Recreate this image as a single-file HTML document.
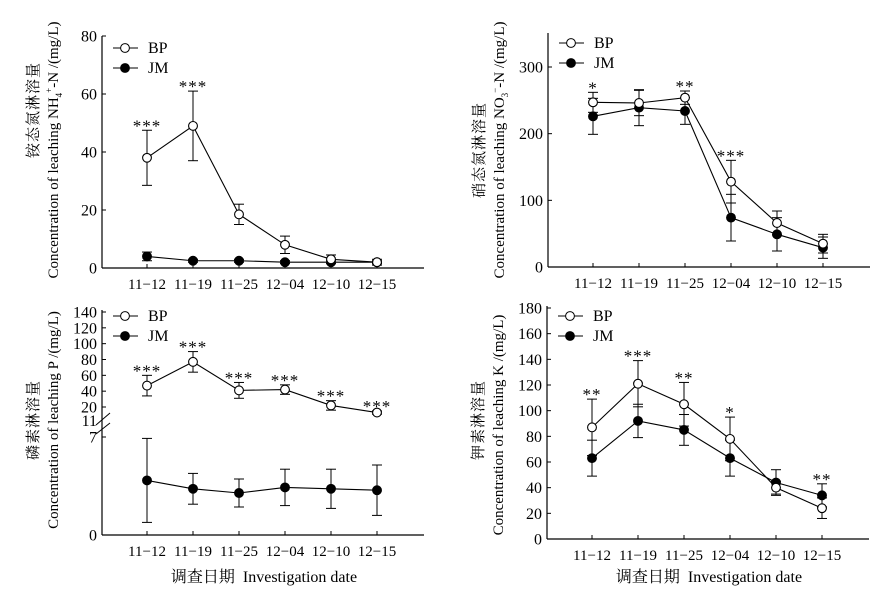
<!DOCTYPE html>
<html><head><meta charset="utf-8"><style>
body{margin:0;background:#fff}
svg text{font-family:"Liberation Serif","Times New Roman","Noto Serif CJK SC","Noto Sans CJK SC",serif;fill:#000}
</style></head><body>
<svg id="c" width="883" height="596" viewBox="0 0 883 596" xmlns="http://www.w3.org/2000/svg"></svg>
<script>
const categories=["11\u221212","11\u221219","11\u221225","12\u221204","12\u221210","12\u221215"];
const nhBP=[38,49,18.5,8,3,2];const nhBPerr=[9.5,12,3.5,3,1.5,1];
const nhJM=[4,2.5,2.5,2,2,2];const nhJMerr=[1.5,0.5,0.5,0.5,0.5,0.5];
const nhStars=["***","***","","","",""];
const noBP=[247,246,254,128,66,35];const noBPerr=[15,19,10,32,18,14];
const noJM=[226,239,234,74,49,29];const noJMerr=[27,27,20,35,25,16];
const noStars=["*","","**","***","",""];
const pBP=[47,77,41,42,22,13];const pBPerr=[13,13,10,6,6,2];
const pJM=[3.9,3.3,3.0,3.4,3.3,3.2];const pJMerr=[3.0,1.1,1.0,1.3,1.4,1.8];
const pStars=["***","***","***","***","***","***"];
const kBP=[87,121,105,78,40,24];const kBPerr=[22,18,17,17,5,8];
const kJM=[63,92,85,63,44,34];const kJMerr=[14,13,12,14,10,9];
const kStars=["**","***","**","*","","**"];
const nhTicks=[0,20,40,60,80];const noTicks=[0,100,200,300];
const pUpperTicks=[20,40,60,80,100,120,140];const pLowerTicks=[0,7];
const kTicks=[0,20,40,60,80,100,120,140,160,180];

const svg=document.getElementById('c');const NS='http://www.w3.org/2000/svg';
function el(t,a,p){const e=document.createElementNS(NS,t);for(const k in a)e.setAttribute(k,a[k]);(p||svg).appendChild(e);return e;}
function txt(s,a,p){const e=el('text',a,p);e.textContent=s;return e;}

function panel(o){
  const g=el('g',{});
  
  
  const xs=i=>o.x0+45+i*46;
  const ya=el('line',{x1:o.x0,y1:o.yTop,x2:o.x0,y2:o.yBase,stroke:'#000','stroke-width':1.2},g);
  
  const xa=el('line',{x1:o.x0,y1:o.yBase,x2:o.x0+322,y2:o.yBase,stroke:'#000','stroke-width':1.2},g);
  
  o.ticks.forEach(t=>{const y=t.y;el('line',{x1:o.x0,y1:y,x2:o.x0+4,y2:y,stroke:'#000'},g);
    const l=txt(t.v,{x:o.x0-5,y:y+5.5,'text-anchor':'end','font-size':16},g);
    });
  categories.forEach((c,i)=>{el('line',{x1:xs(i),y1:o.yBase,x2:xs(i),y2:o.yBase-4,stroke:'#000'},g);
    const l=txt(c,{x:xs(i),y:o.yBase+21,'text-anchor':'middle','font-size':15},g);
    });
  [[o.jm,o.jmErr,'#000','jm'],[o.bp,o.bpErr,'#fff','bp']].forEach(([v,e,f,n])=>{
    let d='';v.forEach((val,i)=>{d+=(i?'L':'M')+xs(i)+','+o.sy(val);});
    const p=el('path',{d:d,fill:'none',stroke:'#000','stroke-width':1.1},g);
    
    v.forEach((val,i)=>{const x=xs(i),y1=o.sy(val+e[i]),y2=o.sy(Math.max(val-e[i],o.minV));
      el('line',{x1:x,y1:y1,x2:x,y2:y2,stroke:'#000'},g);
      el('line',{x1:x-5,y1:y1,x2:x+5,y2:y1,stroke:'#000'},g);
      el('line',{x1:x-5,y1:y2,x2:x+5,y2:y2,stroke:'#000'},g);});
    v.forEach((val,i)=>{const m=el('circle',{cx:xs(i),cy:o.sy(val),r:4.4,fill:f,stroke:'#000','stroke-width':1.1},g);
      });
  });
  o.stars.forEach((s,i)=>{if(!s)return;const top=Math.min(o.sy(o.bp[i]+o.bpErr[i]),o.sy(o.jm[i]+o.jmErr[i]));
    const t=txt(s,{x:xs(i),y:top+1,'text-anchor':'middle','font-size':17,'letter-spacing':1},g);
    });
  const lg=el('g',{},g);
  [['BP','#fff',0],['JM','#000',20]].forEach(([n,f,dy])=>{const y=o.legY+dy;
    el('line',{x1:o.x0+11,y1:y,x2:o.x0+36,y2:y,stroke:'#000'},lg);
    el('circle',{cx:o.x0+23,cy:y,r:4.4,fill:f,stroke:'#000'},lg);
    const t=txt(n,{x:o.x0+46,y:y+5,'font-size':16},lg);});
  const c1=txt(o.cn,{transform:`translate(${o.x0-64},${o.cnY}) rotate(-90)`,'text-anchor':'middle','font-size':15,'letter-spacing':1},g);
  
  const c2=el('text',{transform:`translate(${o.x0-44},${o.enY}) rotate(-90)`,'text-anchor':'middle','font-size':15},g);
  c2.innerHTML=o.en;
  if(o.xt){const t=txt('调查日期\u00a0\u00a0Investigation date',{x:o.x0+162,y:582,'text-anchor':'middle','font-size':16},g);
    }
  return g;
}
const s1=v=>268-v*(232/80);
panel({name:'nh4-panel',x0:102,yTop:36,yBase:268,sy:s1,minV:0,ticks:nhTicks.map(v=>({v:v,y:s1(v)})),
 bp:nhBP,bpErr:nhBPerr,jm:nhJM,jmErr:nhJMerr,stars:nhStars,legY:48,cn:'铵态氮淋溶量',cnY:110,
 en:'Concentration of leaching NH<tspan font-size="9" dy="4">4</tspan><tspan font-size="9" dy="-10">+</tspan><tspan dy="6">-N /(mg/L)</tspan>',enY:150});
const s2=v=>267-v*(200/300);
panel({name:'no3-panel',x0:548,yTop:33,yBase:267,sy:s2,minV:0,ticks:noTicks.map(v=>({v:v,y:s2(v)})),
 bp:noBP,bpErr:noBPerr,jm:noJM,jmErr:noJMerr,stars:noStars,legY:43,cn:'硝态氮淋溶量',cnY:150,
 en:'Concentration of leaching NO<tspan font-size="9" dy="4">3</tspan><tspan font-size="9" dy="-10">\u2212</tspan><tspan dy="6">-N /(mg/L)</tspan>',enY:150});
const s3=v=>v<=7?535-v*14:407-(v-20)*(95/120);
const pt=pUpperTicks.map(v=>({v:v,y:s3(v)})).concat(pLowerTicks.map(v=>({v:v,y:s3(v)})));
panel({name:'p-panel',x0:102,yTop:310,yBase:535,sy:s3,minV:0,ticks:pt,
 bp:pBP,bpErr:pBPerr,jm:pJM,jmErr:pJMerr,stars:pStars,legY:316,cn:'磷素淋溶量',cnY:420,
 en:'Concentration of leaching P /(mg/L)',enY:420,xt:true});
txt('11',{x:97,y:426,'text-anchor':'end','font-size':16});
el('line',{x1:96,y1:425,x2:110,y2:413,stroke:'#000'});el('line',{x1:96,y1:434,x2:110,y2:423,stroke:'#000'});
const s4=v=>539-v*(231/180);
panel({name:'k-panel',x0:547,yTop:306,yBase:539,sy:s4,minV:0,ticks:kTicks.map(v=>({v:v,y:s4(v)})),
 bp:kBP,bpErr:kBPerr,jm:kJM,jmErr:kJMerr,stars:kStars,legY:316,cn:'钾素淋溶量',cnY:420,
 en:'Concentration of leaching K /(mg/L)',enY:425,xt:true});
</script>
</body></html>
